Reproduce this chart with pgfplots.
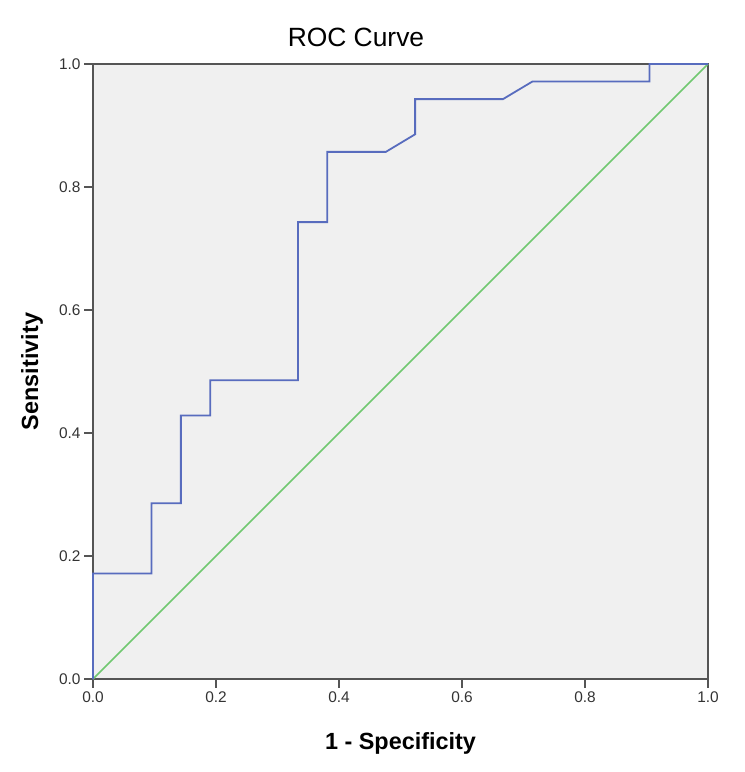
\documentclass[border=0pt]{standalone}
\usepackage{fontspec}
\setmainfont{Liberation Sans}
\usepackage{pgfplots}
\pgfplotsset{compat=1.18}
\definecolor{rocblue}{RGB}{88,108,190}
\definecolor{refgreen}{RGB}{112,200,112}
\definecolor{panel}{RGB}{240,240,240}
\definecolor{frame}{RGB}{85,85,85}

\begin{document}
\begin{tikzpicture}
\begin{axis}[
  scale only axis,
  width=615bp, height=615bp,
  xmin=0, xmax=1, ymin=0, ymax=1,
  xtick={0,0.2,...,1.0}, ytick={0,0.2,...,1.0},
  xticklabel style={/pgf/number format/.cd,fixed,fixed zerofill,precision=1},
  yticklabel style={/pgf/number format/.cd,fixed,fixed zerofill,precision=1},
  /pgf/number format/assume math mode=true,
  tick label style={font=\fontsize{15.5}{18}\selectfont, text=black!80},
  tick align=outside, tick pos=left,
  major tick length=9bp,
  tick style={frame, line width=1.6pt},
  axis line style={frame, line width=1.6pt},
  axis background/.style={fill=panel},
  % title sits left of the axis centre, as in the reference
  title={\fontsize{26.5}{30}\selectfont ROC Curve},
  title style={at={(axis description cs:0.4276,1.0195)}, anchor=base},
  xlabel={\fontsize{23.5}{27}\selectfont\bfseries 1 - Specificity},
  ylabel={\fontsize{23.5}{27}\selectfont\bfseries Sensitivity},
  xlabel style={at={(axis description cs:0.5,-0.114)}, anchor=base},
  ylabel style={at={(axis description cs:-0.0894,0.5)}, anchor=base},
  clip=false,
]
\addplot[refgreen, line width=1.6pt] coordinates {(0,0) (1,1)};
\addplot[rocblue, line width=1.8pt] coordinates {
  (0,0) (0,0.1714) (0.0952,0.1714) (0.0952,0.2857)
  (0.1429,0.2857) (0.1429,0.4286) (0.1905,0.4286) (0.1905,0.4857)
  (0.3333,0.4857) (0.3333,0.7429) (0.3810,0.7429) (0.3810,0.8571)
  (0.4762,0.8571) (0.5238,0.8857) (0.5238,0.9429) (0.6667,0.9429)
  (0.7143,0.9714) (0.9048,0.9714) (0.9048,1) (1,1)
};
\end{axis}
\pgfresetboundingbox
\path (-93bp,-93bp) rectangle (652bp,679bp);
\end{tikzpicture}
\end{document}
